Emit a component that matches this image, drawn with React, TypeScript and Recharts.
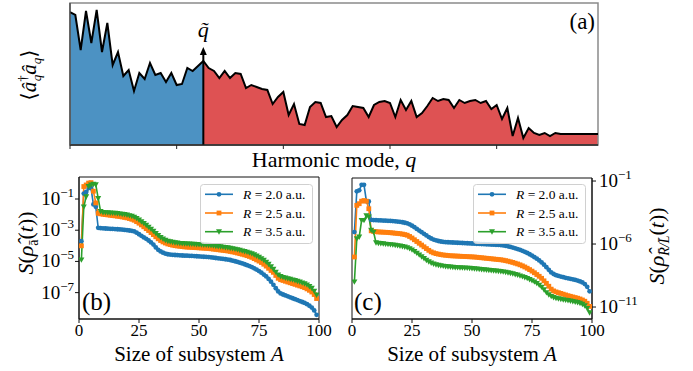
import React from 'react';
import { ComposedChart, LineChart, Line, Area, XAxis, YAxis, ReferenceArea, ReferenceLine, ReferenceDot, Legend } from 'recharts';

// ---------- Panel (a): occupation of harmonic modes ----------
const harmonicModes = [
  0, 1, 2, 3, 4, 5, 6, 7, 8, 9, 10, 11, 12, 13, 14, 15, 16, 17, 18, 19,
  20, 21, 22, 23, 24, 25, 26, 27, 28, 29, 30, 31, 32, 33, 34, 35, 36, 37, 38, 39,
  40, 41, 42, 43, 44, 45, 46, 47, 48, 49, 50, 51, 52, 53, 54, 55, 56, 57, 58, 59,
  60, 61, 62, 63, 64, 65, 66, 67, 68, 69, 70, 71, 72, 73, 74, 75, 76, 77, 78, 79,
  80, 81, 82, 83, 84, 85, 86, 87, 88, 89, 90, 91, 92, 93, 94, 95, 96, 97, 98, 99,
];
const occupation = [
  133, 130, 95, 134, 102, 135, 93, 122, 80, 93, 69, 75, 54, 72, 66, 82, 70, 72, 63, 72,
  60, 61, 77, 74, 79, 84, 77, 74, 67, 74, 67, 72, 71, 57, 60, 58, 56, 55, 41, 48,
  53, 30, 41, 21, 20, 38, 43, 42, 28, 29, 18, 25, 30, 39, 38, 37, 28, 40, 43, 44,
  42, 28, 45, 35, 44, 28, 32, 39, 47, 44, 46, 45, 37, 45, 42, 44, 45, 42, 44, 36,
  40, 26, 37, 9, 27, 7, 17, 12, 10, 12, 9, 12, 11, 11, 11, 11, 11, 11, 11, 11,
];
const qTilde = 25;
const modeTicks = [0, 20, 40, 60, 80];

// ---------- Panels (b), (c): entanglement entropy (log10 values) ----------
const subsystemSizes = [
  1, 2, 3, 4, 5, 6, 7, 8, 9, 10, 11, 12, 13, 14, 15, 16, 17, 18, 19, 20,
  21, 22, 23, 24, 25, 26, 27, 28, 29, 30, 31, 32, 33, 34, 35, 36, 37, 38, 39, 40,
  41, 42, 43, 44, 45, 46, 47, 48, 49, 50, 51, 52, 53, 54, 55, 56, 57, 58, 59, 60,
  61, 62, 63, 64, 65, 66, 67, 68, 69, 70, 71, 72, 73, 74, 75, 76, 77, 78, 79, 80,
  81, 82, 83, 84, 85, 86, 87, 88, 89, 90, 91, 92, 93, 94, 95, 96, 97, 98, 99,
];
const rLabels = ['2.0', '2.5', '3.5'];

const logSb_R20 = [
  -3.70, -0.65, -0.55, -0.30, -0.30, -1.35, -1.50, -2.85, -2.87, -2.88, -2.89, -2.90, -2.91, -2.92, -2.93, -2.94, -2.95, -2.96, -2.98, -3.00,
  -3.02, -3.04, -3.08, -3.16, -3.26, -3.36, -3.46, -3.55, -3.66, -3.78, -3.92, -4.10, -4.26, -4.36, -4.44, -4.50, -4.54, -4.56, -4.58, -4.59,
  -4.60, -4.61, -4.62, -4.63, -4.63, -4.64, -4.65, -4.66, -4.67, -4.68, -4.69, -4.70, -4.71, -4.72, -4.74, -4.76, -4.78, -4.80, -4.82, -4.84,
  -4.86, -4.88, -4.91, -4.95, -4.99, -5.03, -5.08, -5.13, -5.18, -5.24, -5.30, -5.36, -5.44, -5.52, -5.62, -5.72, -5.84, -5.96, -6.12, -6.30,
  -6.50, -6.72, -6.92, -7.05, -7.12, -7.18, -7.24, -7.30, -7.36, -7.42, -7.48, -7.54, -7.60, -7.66, -7.74, -7.84, -7.96, -8.14, -8.42,
];
const logSb_R25 = [
  -4.00, -0.20, -0.10, 0.02, 0.05, -0.50, -1.25, -1.92, -1.95, -1.98, -2.00, -2.02, -2.04, -2.06, -2.08, -2.10, -2.12, -2.15, -2.18, -2.21,
  -2.25, -2.30, -2.36, -2.45, -2.55, -2.66, -2.78, -2.90, -3.02, -3.15, -3.28, -3.42, -3.55, -3.66, -3.75, -3.82, -3.88, -3.92, -3.96, -3.99,
  -4.01, -4.03, -4.05, -4.07, -4.08, -4.09, -4.10, -4.11, -4.12, -4.13, -4.14, -4.15, -4.16, -4.17, -4.19, -4.21, -4.23, -4.25, -4.27, -4.29,
  -4.31, -4.33, -4.36, -4.39, -4.42, -4.46, -4.50, -4.54, -4.58, -4.63, -4.68, -4.74, -4.82, -4.90, -4.98, -5.07, -5.18, -5.30, -5.44, -5.58,
  -5.70, -5.90, -6.08, -6.17, -6.22, -6.27, -6.32, -6.37, -6.42, -6.47, -6.52, -6.57, -6.62, -6.68, -6.76, -6.85, -6.96, -7.12, -7.38,
];
const logSb_R35 = [
  -4.90, -1.50, -0.85, -0.20, -0.10, -0.05, -0.08, -0.96, -1.80, -1.86, -1.87, -1.88, -1.89, -1.90, -1.91, -1.93, -1.95, -1.97, -1.99, -2.02,
  -2.06, -2.10, -2.16, -2.24, -2.34, -2.45, -2.56, -2.68, -2.80, -2.93, -3.06, -3.20, -3.34, -3.46, -3.56, -3.64, -3.70, -3.74, -3.77, -3.80,
  -3.82, -3.84, -3.85, -3.86, -3.87, -3.88, -3.89, -3.90, -3.91, -3.92, -3.93, -3.94, -3.95, -3.96, -3.98, -4.00, -4.02, -4.04, -4.06, -4.08,
  -4.10, -4.12, -4.15, -4.18, -4.21, -4.24, -4.28, -4.32, -4.36, -4.40, -4.45, -4.50, -4.57, -4.65, -4.73, -4.82, -4.92, -5.04, -5.18, -5.34,
  -5.50, -5.68, -5.86, -5.96, -6.02, -6.06, -6.10, -6.14, -6.18, -6.22, -6.27, -6.32, -6.37, -6.43, -6.50, -6.60, -6.72, -6.90, -7.15,
];

const logSc_R20 = [
  -5.05, -1.82, -1.74, -1.30, -1.30, -2.60, -2.62, -4.08, -4.10, -4.11, -4.12, -4.13, -4.14, -4.15, -4.16, -4.17, -4.18, -4.20, -4.22, -4.24,
  -4.27, -4.31, -4.36, -4.44, -4.54, -4.66, -4.80, -4.93, -5.06, -5.19, -5.32, -5.45, -5.56, -5.65, -5.71, -5.76, -5.80, -5.83, -5.85, -5.86,
  -5.87, -5.88, -5.89, -5.90, -5.91, -5.92, -5.93, -5.94, -5.95, -5.96, -5.97, -5.98, -5.99, -6.00, -6.01, -6.02, -6.03, -6.04, -6.05, -6.06,
  -6.07, -6.08, -6.11, -6.14, -6.18, -6.23, -6.28, -6.34, -6.40, -6.46, -6.54, -6.62, -6.71, -6.81, -6.92, -7.04, -7.16, -7.30, -7.46, -7.64,
  -7.84, -8.05, -8.25, -8.38, -8.47, -8.53, -8.58, -8.63, -8.68, -8.72, -8.76, -8.80, -8.85, -8.90, -8.97, -9.05, -9.18, -9.40, -9.75,
];
const logSc_R25 = [
  -7.03, -2.93, -2.80, -2.60, -2.55, -2.60, -3.20, -4.95, -5.00, -5.02, -5.04, -5.05, -5.06, -5.07, -5.08, -5.10, -5.12, -5.14, -5.16, -5.18,
  -5.21, -5.25, -5.30, -5.40, -5.52, -5.66, -5.80, -5.94, -6.08, -6.22, -6.36, -6.50, -6.62, -6.70, -6.76, -6.80, -6.84, -6.87, -6.89, -6.91,
  -6.93, -6.94, -6.95, -6.96, -6.97, -6.98, -6.99, -7.00, -7.01, -7.02, -7.03, -7.05, -7.07, -7.09, -7.11, -7.13, -7.15, -7.17, -7.19, -7.21,
  -7.23, -7.25, -7.28, -7.32, -7.36, -7.41, -7.46, -7.52, -7.58, -7.65, -7.73, -7.82, -7.92, -8.03, -8.15, -8.28, -8.42, -8.56, -8.72, -8.92,
  -9.12, -9.35, -9.58, -9.72, -9.80, -9.86, -9.92, -9.98, -10.04, -10.10, -10.15, -10.20, -10.25, -10.30, -10.36, -10.44, -10.54, -10.70, -10.95,
];
const logSc_R35 = [
  -9.00, -5.58, -5.44, -4.12, -4.12, -3.75, -3.85, -4.90, -5.05, -5.90, -5.94, -5.96, -5.98, -6.00, -6.02, -6.04, -6.06, -6.09, -6.12, -6.15,
  -6.19, -6.23, -6.28, -6.36, -6.46, -6.58, -6.72, -6.86, -7.00, -7.14, -7.28, -7.40, -7.50, -7.58, -7.64, -7.68, -7.72, -7.75, -7.78, -7.80,
  -7.82, -7.84, -7.86, -7.87, -7.88, -7.89, -7.90, -7.91, -7.92, -7.94, -7.96, -7.98, -8.00, -8.02, -8.04, -8.06, -8.08, -8.10, -8.12, -8.14,
  -8.16, -8.18, -8.21, -8.24, -8.28, -8.32, -8.36, -8.41, -8.46, -8.52, -8.58, -8.65, -8.72, -8.81, -8.90, -9.00, -9.12, -9.26, -9.42, -9.62,
  -9.85, -10.02, -10.15, -10.24, -10.30, -10.34, -10.38, -10.42, -10.45, -10.48, -10.52, -10.56, -10.60, -10.64, -10.70, -10.78, -10.90, -11.10, -11.45,
];

const sizeTicks = [0, 25, 50, 75, 100];
const bLogTicks = [-1, -3, -5, -7];
const cLogTicks = [-1, -6, -11];
const bLogDomain = [-8.69, 0.41];
const cLogDomain = [-11.95, -0.76];

// ---------- styling ----------
const FONT = "'Liberation Serif', 'DejaVu Serif', serif";
const TS: React.CSSProperties = { fontFamily: FONT };
const C_BLUE = '#1f77b4';
const C_ORANGE = '#ff7f0e';
const C_GREEN = '#2ca02c';
const FILL_BLUE = '#4c92c3';
const FILL_RED = '#de5253';

const aData = harmonicModes.map((q, i) => ({
  q,
  occ: occupation[i],
  low: q <= qTilde ? occupation[i] : null,
  high: q >= qTilde ? occupation[i] : null,
}));
const bData = subsystemSizes.map((A, i) => ({ A, r20: logSb_R20[i], r25: logSb_R25[i], r35: logSb_R35[i] }));
const cData = subsystemSizes.map((A, i) => ({ A, r20: logSc_R20[i], r25: logSc_R25[i], r35: logSc_R35[i] }));

const circleDot = (p: any) => <circle key={`c${p.index}`} cx={p.cx} cy={p.cy} r={2.4} fill={C_BLUE} />;
const squareDot = (p: any) => <rect key={`s${p.index}`} x={p.cx - 2.4} y={p.cy - 2.4} width={4.8} height={4.8} fill={C_ORANGE} />;
const triDot = (p: any) => (
  <polygon key={`t${p.index}`} points={`${p.cx - 3},${p.cy - 2.4} ${p.cx + 3},${p.cy - 2.4} ${p.cx},${p.cy + 3}`} fill={C_GREEN} />
);
const markerFor = [
  (x: number, y: number) => <circle cx={x} cy={y} r={2.4} fill={C_BLUE} />,
  (x: number, y: number) => <rect x={x - 2.4} y={y - 2.4} width={4.8} height={4.8} fill={C_ORANGE} />,
  (x: number, y: number) => <polygon points={`${x - 3},${y - 2.4} ${x + 3},${y - 2.4} ${x},${y + 3}`} fill={C_GREEN} />,
];
const colors = [C_BLUE, C_ORANGE, C_GREEN];

const XTick = (p: any) => (
  <text x={p.x} y={p.y} dy={11} textAnchor="middle" style={TS} fontSize={17} fill="#000">
    {p.payload.value}
  </text>
);
const LogTick = (p: any) => {
  const v = p.payload.value;
  return (
    <text x={p.x} y={p.y} dy={6} textAnchor={p.anchor} style={TS} fontSize={19} fill="#000">
      10<tspan dy={-8} fontSize={13}>{'\u2212' + Math.abs(v)}</tspan>
    </text>
  );
};

const ArrowHead = (p: any) => (
  <g>
    <polygon points={`${p.cx},${p.cy} ${p.cx - 3.5},${p.cy + 8} ${p.cx + 3.5},${p.cy + 8}`} fill="#000" />
    <text x={p.cx} y={p.cy - 10} textAnchor="middle" style={TS} fontSize={22} fontStyle="italic" fill="#000">
      {'q\u0303'}
    </text>
  </g>
);

const LegendBox = () => (
  <svg width={114} height={61} style={{ display: 'block' }}>
    <rect x={0.5} y={0.5} width={112} height={59} rx={3} fill="#fff" fillOpacity={0.8} stroke="#d0d0d0" />
    {rLabels.map((r, i) => {
      const y = 10.3 + i * 18.7;
      return (
        <g key={r}>
          <line x1={5} x2={33} y1={y} y2={y} stroke={colors[i]} strokeWidth={1.6} />
          {markerFor[i](19, y)}
          <text x={43} y={y + 4.5} style={TS} fontSize={13.5} fill="#000">
            <tspan fontStyle="italic">R</tspan>
            {' = ' + r + ' a.u.'}
          </text>
        </g>
      );
    })}
  </svg>
);

const EntropyPanel = ({ data, domain, ticks, side }: any) => {
  const isLeft = side === 'left';
  return (
    <LineChart
      width={isLeft ? 340 : 353}
      height={211}
      data={data}
      margin={isLeft ? { top: 17, right: 21, bottom: 0, left: 0 } : { top: 18, right: 41, bottom: 0, left: 12 }}
    >
      <XAxis
        dataKey="A"
        type="number"
        domain={[0, 100]}
        ticks={sizeTicks}
        height={52}
        tickSize={4}
        tickMargin={2}
        tick={<XTick />}
        axisLine={{ stroke: '#111' }}
        tickLine={{ stroke: '#111' }}
        allowDataOverflow
      />
      <YAxis
        type="number"
        orientation={side}
        domain={domain}
        ticks={ticks}
        width={isLeft ? 79 : 60}
        tickSize={4}
        tickMargin={isLeft ? 1 : 3}
        tick={<LogTick anchor={isLeft ? 'end' : 'start'} />}
        axisLine={{ stroke: '#111' }}
        tickLine={{ stroke: '#111' }}
        allowDataOverflow
      />
      <ReferenceArea x1={0} x2={100} y1={domain[0]} y2={domain[1]} fill="none" stroke="#111" strokeWidth={1} ifOverflow="visible" />
      <Line dataKey="r20" stroke={C_BLUE} strokeWidth={1.6} dot={circleDot} isAnimationActive={false} />
      <Line dataKey="r25" stroke={C_ORANGE} strokeWidth={1.6} dot={squareDot} isAnimationActive={false} />
      <Line dataKey="r35" stroke={C_GREEN} strokeWidth={1.6} dot={triDot} isAnimationActive={false} />
      <Legend
        layout="horizontal"
        verticalAlign="middle"
        content={() => <LegendBox />}
        wrapperStyle={{ position: 'absolute', left: isLeft ? 200 : 133, top: 24, width: 114, height: 61 }}
      />
    </LineChart>
  );
};

export default function App() {
  return (
    <div style={{ position: 'absolute', left: 0, top: 0, width: 693, height: 371, background: '#fff', overflow: 'hidden', fontFamily: FONT }}>
      <div style={{ position: 'absolute', left: 0, top: 0 }}>
        <ComposedChart width={693} height={170} data={aData} margin={{ top: 3, right: 95, bottom: 5, left: 0 }}>
          <XAxis
            dataKey="q"
            type="number"
            domain={[0, 99]}
            ticks={modeTicks}
            tickFormatter={() => ''}
            height={20}
            tickSize={4}
            axisLine={{ stroke: '#222', strokeWidth: 1.3 }}
            tickLine={{ stroke: '#222' }}
            allowDataOverflow
          />
          <YAxis type="number" domain={[0, 142]} width={70} tick={false} tickLine={false} axisLine={{ stroke: '#444', strokeWidth: 1.3 }} allowDataOverflow />
          <Area dataKey="low" type="linear" fill={FILL_BLUE} fillOpacity={1} stroke="none" isAnimationActive={false} />
          <Area dataKey="high" type="linear" fill={FILL_RED} fillOpacity={1} stroke="none" isAnimationActive={false} />
          <ReferenceArea x1={0} x2={99} y1={0} y2={142} fill="none" stroke="#8a8a8a" strokeWidth={1.5} ifOverflow="visible" />
          <Line dataKey="occ" type="linear" stroke="#000" strokeWidth={2} dot={false} isAnimationActive={false} />
          <ReferenceLine segment={[{ x: qTilde, y: 0 }, { x: qTilde, y: 91 }]} stroke="#000" strokeWidth={2} />
          <ReferenceDot x={qTilde} y={98} r={4} shape={ArrowHead} ifOverflow="visible" />
        </ComposedChart>
      </div>
      <div style={{ position: 'absolute', left: 0, top: 160 }}>
        <EntropyPanel data={bData} domain={bLogDomain} ticks={bLogTicks} side="left" />
      </div>
      <div style={{ position: 'absolute', left: 340, top: 160 }}>
        <EntropyPanel data={cData} domain={cLogDomain} ticks={cLogTicks} side="right" />
      </div>
      <svg width={693} height={371} style={{ position: 'absolute', left: 0, top: 0, pointerEvents: 'none', fontFamily: FONT }} fill="#000">
        <text x={595} y={29} textAnchor="end" fontSize={23} style={TS}>(a)</text>
        <text x={334} y={167} textAnchor="middle" fontSize={22} style={TS}>
          Harmonic mode, <tspan fontStyle="italic">q</tspan>
        </text>
        <text transform="translate(36,75) rotate(-90)" textAnchor="middle" fontSize={21} style={TS}>
          {'\u27E8'}<tspan fontStyle="italic">{'\u00E2'}</tspan>
          <tspan dy={-9} fontSize={13}>{'\u2020'}</tspan>
          <tspan dx={-6} dy={14} fontSize={13} fontStyle="italic">q</tspan>
          <tspan dy={-5} fontStyle="italic">{'\u00E2'}</tspan>
          <tspan dy={5} fontSize={13} fontStyle="italic">q</tspan>
          <tspan dy={-5}>{'\u27E9'}</tspan>
        </text>
        <text x={82} y={310} fontSize={25} style={TS}>(b)</text>
        <text x={354} y={310} fontSize={25} style={TS}>(c)</text>
        <text x={199} y={361} textAnchor="middle" fontSize={21} style={TS}>
          Size of subsystem <tspan fontStyle="italic">A</tspan>
        </text>
        <text x={472} y={361} textAnchor="middle" fontSize={21} style={TS}>
          Size of subsystem <tspan fontStyle="italic">A</tspan>
        </text>
        <text transform="translate(33,243) rotate(-90)" textAnchor="middle" fontSize={22} style={TS}>
          <tspan fontStyle="italic">S</tspan>(<tspan fontStyle="italic">{'\u03C1\u0302'}</tspan>
          <tspan dy={5} fontSize={14}>{'\u0101'}</tspan>
          <tspan dy={-5}>(</tspan><tspan fontStyle="italic">t</tspan>))
        </text>
        <text transform="translate(664,246) rotate(-90)" textAnchor="middle" fontSize={22} style={TS}>
          <tspan fontStyle="italic">S</tspan>(<tspan fontStyle="italic">{'\u03C1\u0302'}</tspan>
          <tspan dy={5} fontSize={14} fontStyle="italic">{'R\u0304/L\u0304'}</tspan>
          <tspan dy={-5}>(</tspan><tspan fontStyle="italic">t</tspan>))
        </text>
      </svg>
    </div>
  );
}
